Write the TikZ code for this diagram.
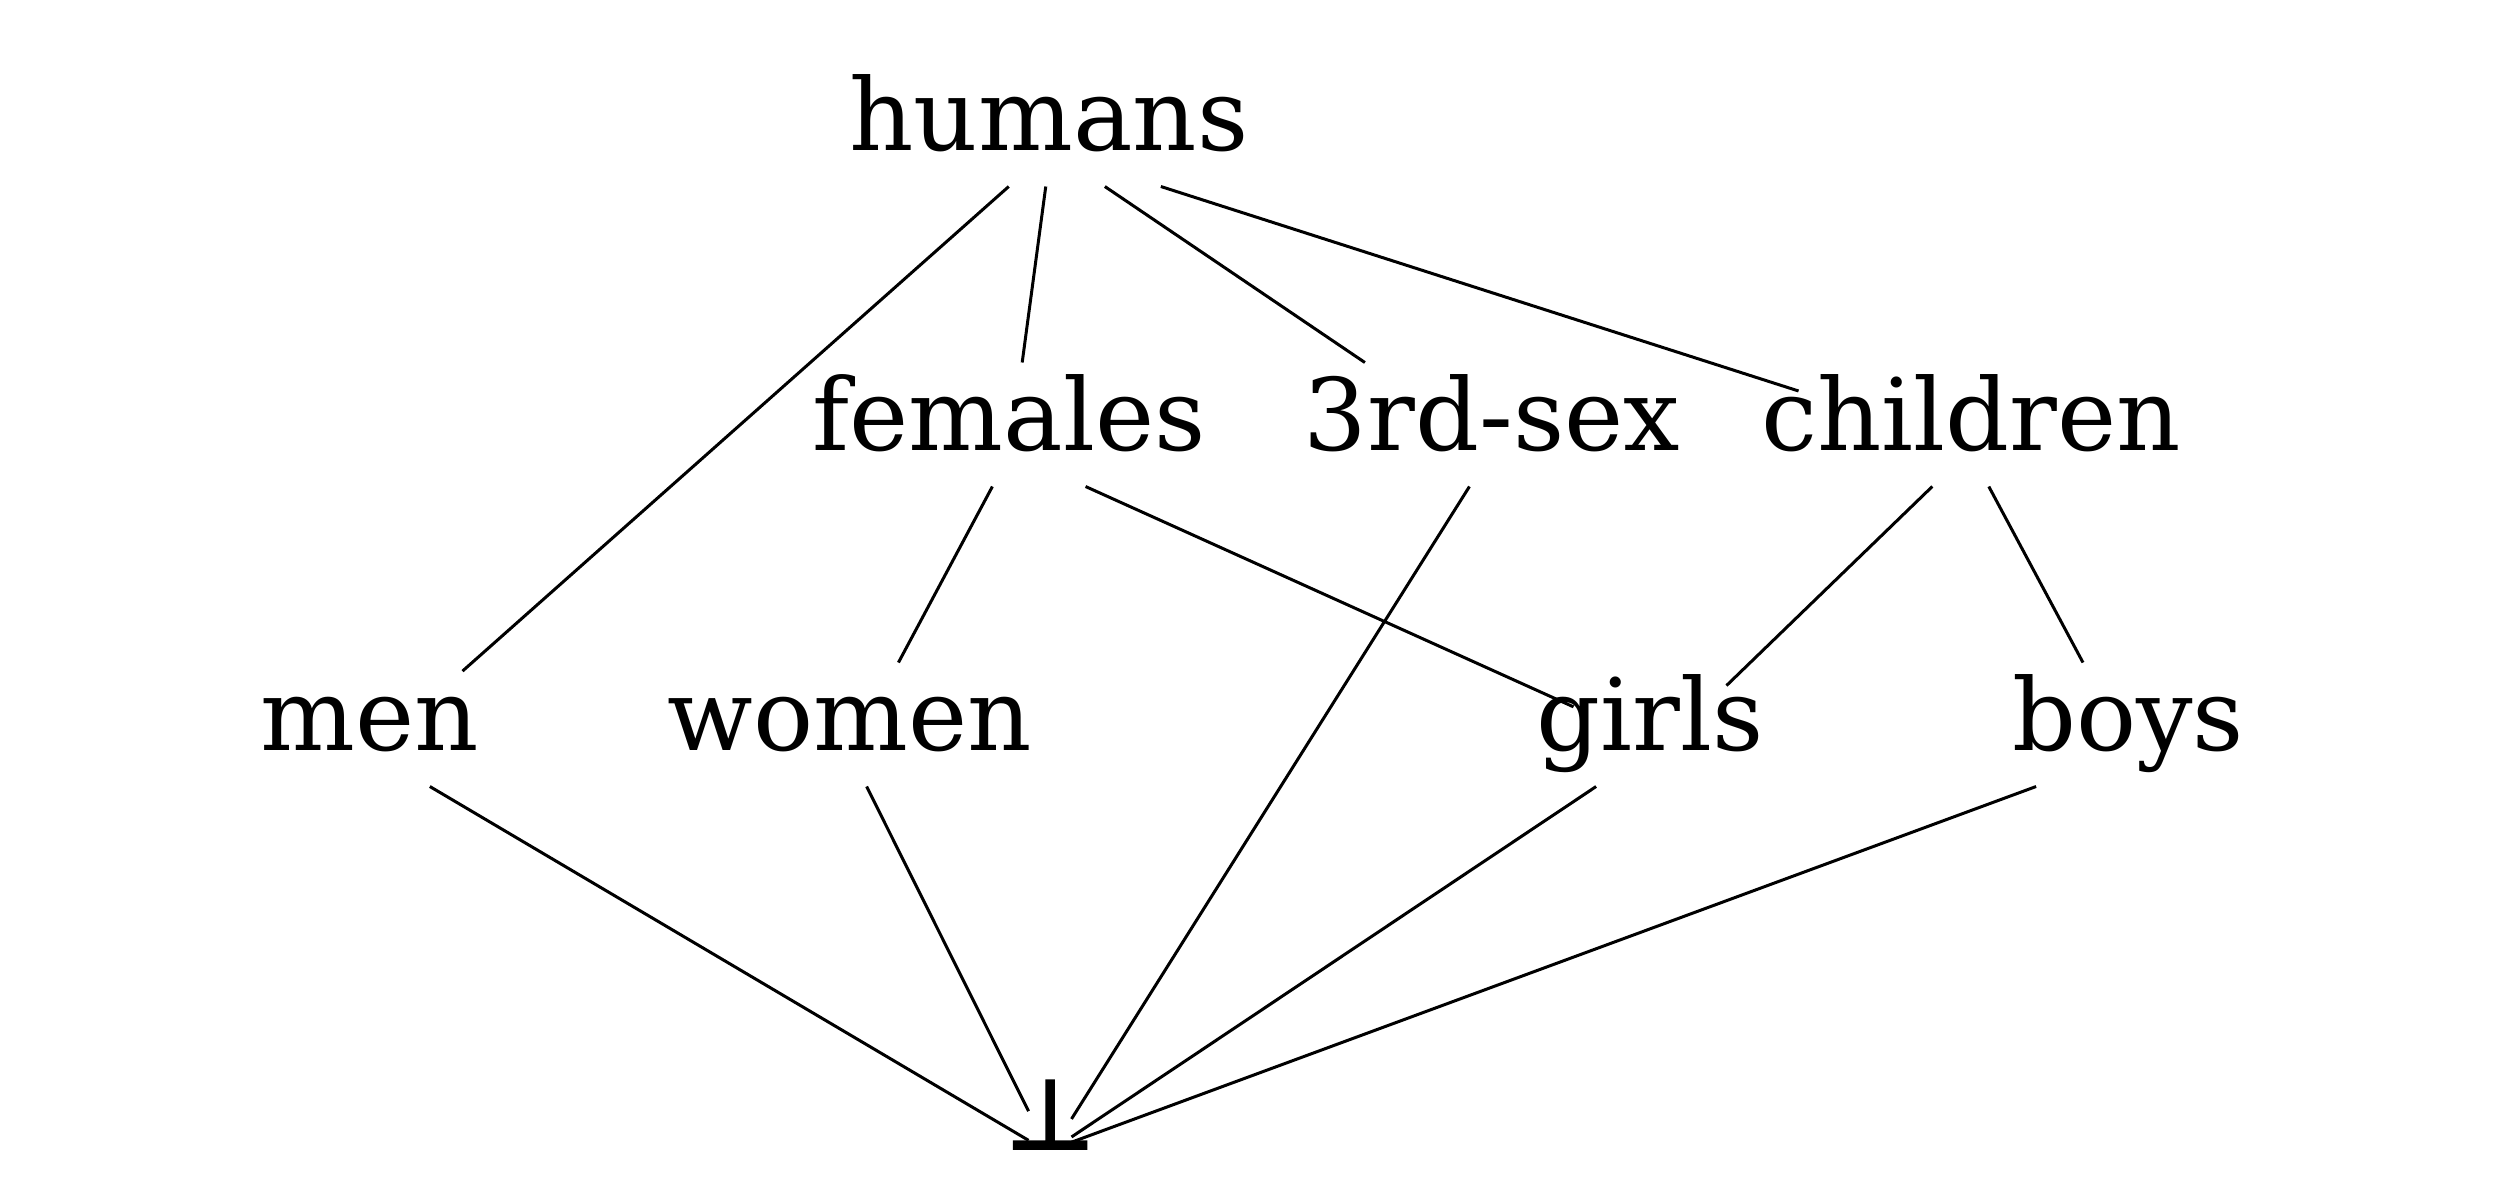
\documentclass[tikz,border=0pt]{standalone}
\usepackage{fontspec}
\setmainfont{DejaVu Serif}
\newfontfamily\botfont{DejaVu Serif}[FakeBold=1.6]
\usetikzlibrary{calc}

\newcommand{\term}[2]{\makebox[#1pt]{#2}}

\begin{document}
\begin{tikzpicture}[x=0.1pt,y=-0.1pt,inner sep=0pt,line width=0.3pt,
	every node/.style={text height=8.6pt,text depth=3.5pt}]

\useasboundingbox (0,0) rectangle (2500,1200);

\node (humans)   at (1049,124.5)  {\term{30}{humans}};
\node (females)  at (1009,424.5)  {\term{38}{females}};
\node (thirdsex) at (1492,424.5)  {\term{36}{3rd-sex}};
\node (children) at (1971,424.5)  {\term{34.2}{children}};
\node (men)      at (370,724.5)   {\term{18.2}{men}};
\node (women)    at (850,724.5)   {\term{36}{women}};
\node (girls)    at (1650,724.5)  {\term{15}{girls}};
\node (boys)     at (2128,724.5)  {\term{20}{boys}};
\node (bottom)   at (1050,1123.5) {\term{4}{\botfont ⊥}};

\draw	(humans.-123.5) -- (men.30)
	(humans.-93.8) -- (females.78.8)
	(humans.-48.8) -- (thirdsex.154.5)
	(humans.-29.9) -- (children.169.9)
	(females.-105.7) -- (women.52.8)
	(females.-39.6) -- (girls.167.6)
	(thirdsex.-110.8) -- (bottom.12.7)
	(children.-122.1) -- (girls.27.6)
	(children.-74.3) -- (boys.126.3)
	(men.-46.2) -- (bottom.-142.2)
	(women.-75.2) -- (bottom.150.1)
	(girls.-131.5) -- (bottom.-32)
	(boys.-146.4) -- (bottom.-41.2);

\end{tikzpicture}
\end{document}
